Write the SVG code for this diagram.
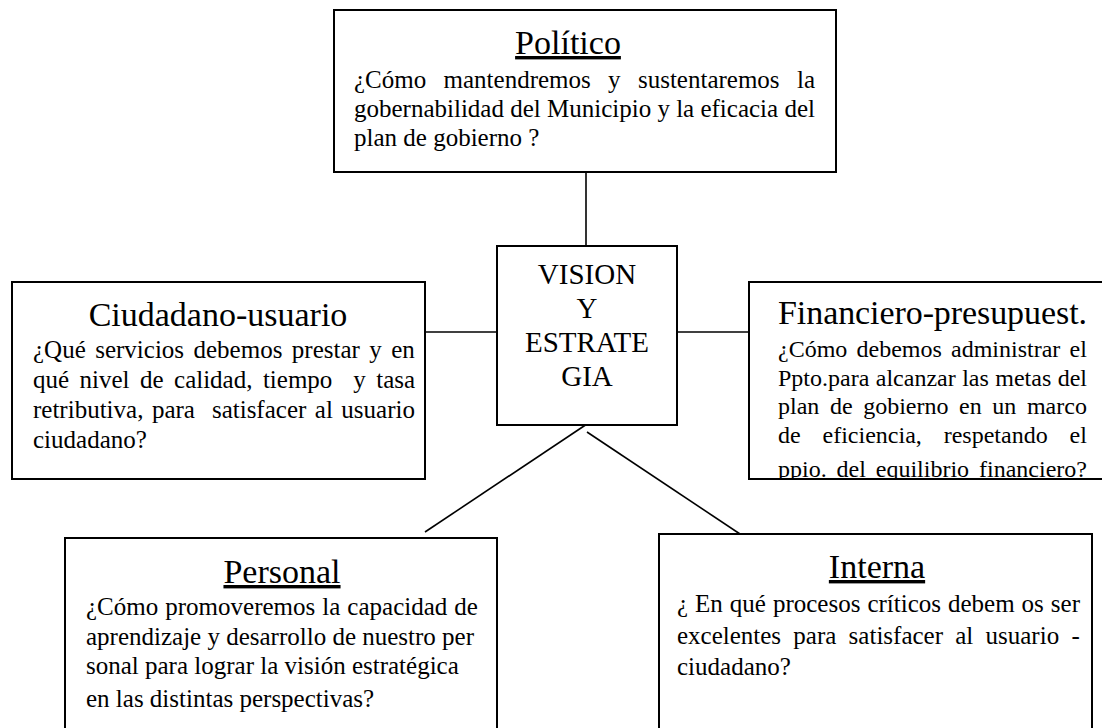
<svg xmlns="http://www.w3.org/2000/svg" width="1102" height="728" viewBox="0 0 1102 728">
<style>
.box{fill:#fff;stroke:#000;stroke-width:2}
.con line{stroke:#000;stroke-width:1.6}
text{font-family:"Liberation Serif","Times New Roman",serif;fill:#000;white-space:pre}
.t{font-size:34px}
.tu{font-size:34px;text-decoration:underline}
.b{font-size:25px}
.b24{font-size:24px}
.c{font-size:29px;text-anchor:middle}
.m{text-anchor:middle}
</style>
<defs>
<clipPath id="clipR"><rect x="750" y="283" width="360" height="195"/></clipPath>
</defs>
<rect width="1102" height="728" fill="#fff"/>
<g class="con" id="connectors">
<line x1="586" y1="172" x2="586" y2="246"/>
<line x1="425" y1="332" x2="497" y2="332"/>
<line x1="677" y1="332" x2="749" y2="332"/>
<line x1="425" y1="532" x2="587" y2="424"/>
<line x1="587" y1="432" x2="749" y2="540"/>
</g>
<g id="politico">
<rect class="box" x="334" y="10" width="502" height="162"/>
<text class="tu m" x="568" y="54">Político</text>
<text class="b" x="354" y="88" word-spacing="11.1">¿Cómo mantendremos y sustentaremos la</text>
<text class="b" x="354" y="117">gobernabilidad del Municipio y la eficacia del</text>
<text class="b" x="354" y="146">plan de gobierno ?</text>
</g>
<g id="vision">
<rect class="box" x="497" y="246" width="180" height="179"/>
<text class="c" x="587" y="284">VISION</text>
<text class="c" x="587" y="318">Y</text>
<text class="c" x="587" y="352">ESTRATE</text>
<text class="c" x="587" y="386">GIA</text>
</g>
<g id="ciudadano">
<rect class="box" x="12" y="282" width="413" height="197"/>
<text class="t m" x="218" y="326">Ciudadano-usuario</text>
<text class="b" x="33" y="358" word-spacing="3.2">¿Qué servicios debemos prestar y en</text>
<text class="b" x="33" y="388" word-spacing="4.2">qué nivel de calidad, tiempo  y tasa</text>
<text class="b" x="33" y="418" word-spacing="2.26">retributiva, para  satisfacer al usuario</text>
<text class="b" x="33" y="448">ciudadano?</text>
</g>
<g id="financiero">
<rect class="box" x="749" y="282" width="370" height="197"/>
<text class="t" x="778" y="324" textLength="309" lengthAdjust="spacing">Financiero-presupuest.</text>
<g clip-path="url(#clipR)">
<text class="b24" x="778" y="357" word-spacing="3.2">¿Cómo debemos administrar el</text>
<text class="b24" x="778" y="386" word-spacing="0.45">Ppto.para alcanzar las metas del</text>
<text class="b24" x="778" y="414" word-spacing="4.6">plan de gobierno en un marco</text>
<text class="b24" x="778" y="443" word-spacing="15.9">de eficiencia, respetando el</text>
<text class="b24" x="778" y="477" word-spacing="3.9">ppio. del equilibrio financiero?</text>
</g>
</g>
<g id="personal">
<rect class="box" x="65" y="538" width="432" height="200"/>
<text class="tu m" x="282" y="583">Personal</text>
<text class="b" x="86" y="615" word-spacing="0.8">¿Cómo promoveremos la capacidad de</text>
<text class="b" x="86" y="645">aprendizaje y desarrollo de nuestro per</text>
<text class="b" x="86" y="674">sonal para lograr la visión estratégica</text>
<text class="b" x="86" y="707">en las distintas perspectivas?</text>
</g>
<g id="interna">
<rect class="box" x="659" y="534" width="433" height="204"/>
<text class="tu m" x="877" y="578">Interna</text>
<text class="b" x="677" y="612" word-spacing="0.74">¿ En qué procesos críticos debem os ser</text>
<text class="b" x="677" y="644" word-spacing="6">excelentes para satisfacer al usuario -</text>
<text class="b" x="677" y="675">ciudadano?</text>
</g>
</svg>
